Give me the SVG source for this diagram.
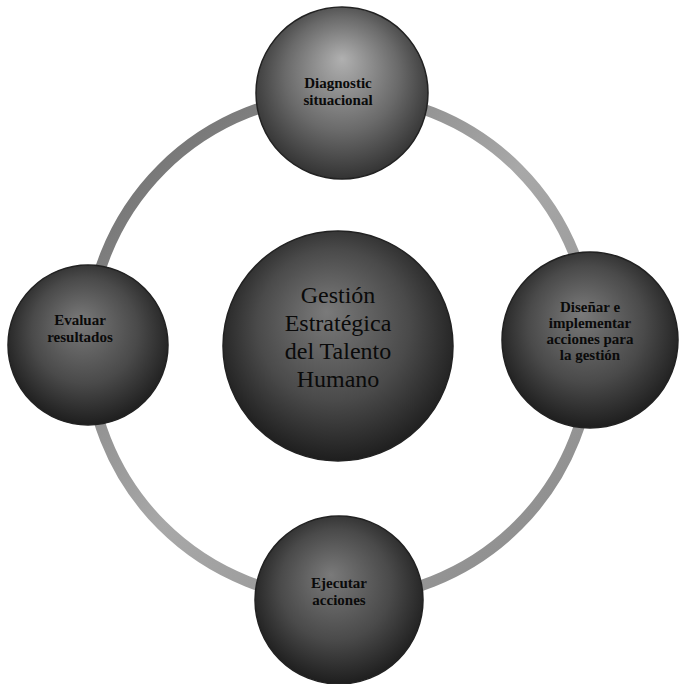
<svg xmlns="http://www.w3.org/2000/svg" width="680" height="684" viewBox="0 0 680 684">
<defs>
<radialGradient id="sph" cx="50%" cy="45%" r="55%" fx="45%" fy="35%">
<stop offset="0" stop-color="#7a7a7a"/>
<stop offset="0.6" stop-color="#4a4a4a"/>
<stop offset="1" stop-color="#1e1e1e"/>
</radialGradient>
<radialGradient id="sphTop" cx="50%" cy="45%" r="55%" fx="50%" fy="30%">
<stop offset="0" stop-color="#b0b0b0"/>
<stop offset="0.6" stop-color="#6a6a6a"/>
<stop offset="1" stop-color="#333"/>
</radialGradient>
<linearGradient id="ringg" x1="0" y1="0" x2="1" y2="1">
<stop offset="0" stop-color="#666"/>
<stop offset="0.5" stop-color="#a8a8a8"/>
<stop offset="1" stop-color="#888"/>
</linearGradient>
</defs>
<style>
.node circle{stroke:#222;stroke-width:1.5}
.lbl{font-family:"Liberation Serif","Times New Roman",serif;font-weight:bold;fill:#0a0a0a;text-anchor:middle}
.sm{font-size:15px}
.big{font-size:24px;font-weight:normal}
</style>
<rect width="680" height="684" fill="#fff"/>
<g id="connectors">
<circle cx="340" cy="347" r="252" fill="none" stroke="url(#ringg)" stroke-width="11"/>
</g>
<g id="center" class="node">
<circle cx="338" cy="346" r="115" fill="url(#sph)"/>
<text class="lbl big" x="338" y="303">Gestión</text>
<text class="lbl big" x="338" y="331">Estratégica</text>
<text class="lbl big" x="338" y="359">del Talento</text>
<text class="lbl big" x="338" y="387">Humano</text>
</g>
<g id="top" class="node">
<circle cx="342" cy="93" r="86" fill="url(#sphTop)"/>
<text class="lbl sm" x="338" y="88">Diagnostic</text>
<text class="lbl sm" x="338" y="105">situacional</text>
</g>
<g id="right" class="node">
<circle cx="590" cy="340" r="88" fill="url(#sph)"/>
<text class="lbl sm" x="590" y="312">Diseñar e</text>
<text class="lbl sm" x="590" y="328">implementar</text>
<text class="lbl sm" x="590" y="344">acciones para</text>
<text class="lbl sm" x="590" y="360">la gestión</text>
</g>
<g id="left" class="node">
<circle cx="88" cy="345" r="80" fill="url(#sph)"/>
<text class="lbl sm" x="80" y="325">Evaluar</text>
<text class="lbl sm" x="80" y="342">resultados</text>
</g>
<g id="bottom" class="node">
<circle cx="339" cy="600" r="84" fill="url(#sph)"/>
<text class="lbl sm" x="339" y="588">Ejecutar</text>
<text class="lbl sm" x="339" y="605">acciones</text>
</g>
</svg>
